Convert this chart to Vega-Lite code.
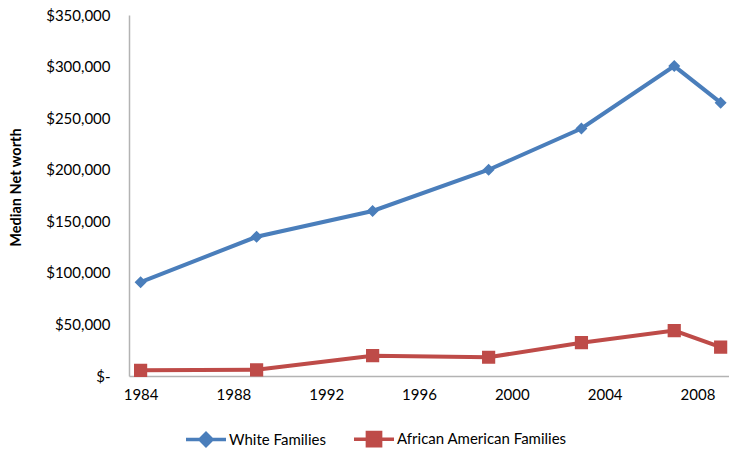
{
  "$schema": "https://vega.github.io/schema/vega-lite/v6.json",
  "width": 600,
  "height": 361,
  "autosize": "none",
  "padding": {"left": 129, "top": 15, "right": 0, "bottom": 73},
  "background": "white",
  "config": {
    "view": {"stroke": null},
    "font": "Lato",
    "axis": {"labelFont": "Lato", "titleFont": "Lato", "labelColor": "#000000", "titleColor": "#000000", "grid": false, "ticks": false, "domainColor": "#b3b3b3", "domainWidth": 1.5},
    "legend": {"labelFont": "Lato", "labelColor": "#000000", "labelLimit": 400, "symbolSize": 1600, "symbolStrokeWidth": 3.5}
  },
  "data": {
    "values": [
      {"year": 1984, "series": "White Families", "value": 91000},
      {"year": 1989, "series": "White Families", "value": 135000},
      {"year": 1994, "series": "White Families", "value": 160000},
      {"year": 1999, "series": "White Families", "value": 200000},
      {"year": 2003, "series": "White Families", "value": 240000},
      {"year": 2007, "series": "White Families", "value": 300500},
      {"year": 2009, "series": "White Families", "value": 265000},
      {"year": 1984, "series": "African American Families", "value": 5500},
      {"year": 1989, "series": "African American Families", "value": 6000},
      {"year": 1994, "series": "African American Families", "value": 19700},
      {"year": 1999, "series": "African American Families", "value": 18200},
      {"year": 2003, "series": "African American Families", "value": 32300},
      {"year": 2007, "series": "African American Families", "value": 44000},
      {"year": 2009, "series": "African American Families", "value": 28000}
    ]
  },
  "encoding": {
    "x": {
      "field": "year", "type": "quantitative",
      "scale": {"domain": [1983.5, 2009.36], "nice": false, "zero": false},
      "axis": {"title": null, "values": [1984, 1988, 1992, 1996, 2000, 2004, 2008], "format": "d", "labelFontSize": 15, "labelPadding": 11}
    },
    "y": {
      "field": "value", "type": "quantitative",
      "scale": {"domain": [0, 350000], "nice": false},
      "axis": {"title": "Median Net worth", "titleFontSize": 14.5, "titleFontWeight": "bold", "titlePadding": 22, "titleY": 172, "values": [0, 50000, 100000, 150000, 200000, 250000, 300000, 350000], "labelExpr": "datum.value == 0 ? '$-' : '$' + format(datum.value, ',')", "labelFontSize": 15, "labelPadding": 19, "encode": {"labels": {"update": {"dx": {"signal": "datum.value == 0 ? -7 : 0"}}}}}
    },
    "color": {
      "field": "series", "type": "nominal",
      "scale": {"domain": ["White Families", "African American Families"], "range": ["#4a7ebb", "#be4b48"]},
      "legend": {"title": null, "orient": "none", "direction": "horizontal", "legendX": 55, "legendY": 402, "labelFontSize": 15, "labelOffset": 1, "columnPadding": 21, "symbolSize": 1600, "encode": {"symbols": {"update": {"strokeWidth": {"value": 3.5}, "size": {"value": 1600}}}}}
    }
  },
  "layer": [
    {
      "mark": {"type": "line", "strokeWidth": 4}
    },
    {
      "mark": {"type": "point", "filled": true, "opacity": 1, "size": 1600, "strokeWidth": 0},
      "encoding": {
        "shape": {"field": "series", "type": "nominal", "scale": {"domain": ["White Families", "African American Families"], "range": ["M-1,0H1M0,-0.3L0.3,0L0,0.3L-0.3,0Z", "M-1,0H1M-0.33,-0.33H0.33V0.33H-0.33Z"]}, "legend": {"title": null, "orient": "none", "direction": "horizontal", "legendX": 55, "legendY": 402, "labelFontSize": 15, "labelOffset": 1, "columnPadding": 21, "symbolSize": 1600, "encode": {"symbols": {"update": {"strokeWidth": {"value": 3.5}, "size": {"value": 1600}}}}}},
        "stroke": {"field": "series", "type": "nominal", "scale": {"domain": ["White Families", "African American Families"], "range": ["#4a7ebb", "#be4b48"]}, "legend": {"title": null, "orient": "none", "direction": "horizontal", "legendX": 55, "legendY": 402, "labelFontSize": 15, "labelOffset": 1, "columnPadding": 21, "symbolSize": 1600, "encode": {"symbols": {"update": {"strokeWidth": {"value": 3.5}, "size": {"value": 1600}}}}}}
      }
    }
  ]
}
